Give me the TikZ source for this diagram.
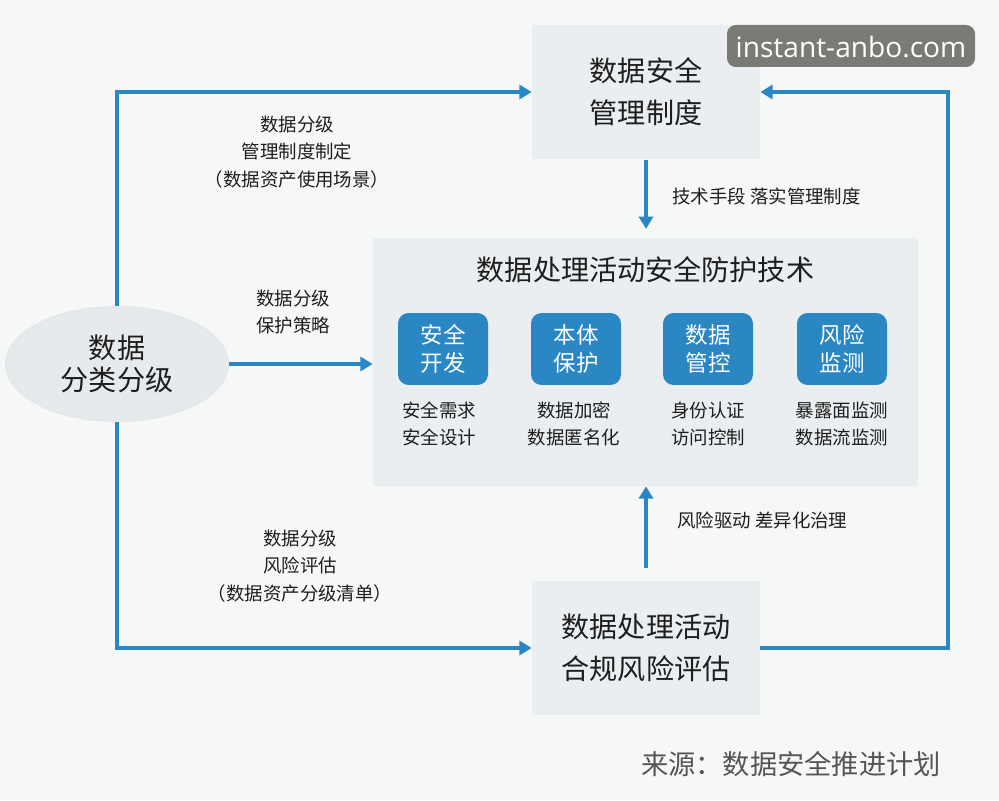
\documentclass[tikz,border=0pt]{standalone}
\usepackage{fontspec}
\setmainfont{Noto Sans CJK SC}
\newfontfamily\wmfont{Open Sans}
\usepackage{tikz}
\usetikzlibrary{arrows.meta, positioning, shapes.geometric}
\definecolor{kblue}{HTML}{2B86C4}
\definecolor{kpage}{HTML}{F6F8F8}
\definecolor{kpanel}{HTML}{EBEEF0}
\definecolor{kell}{HTML}{E7EAED}
\definecolor{ktext}{HTML}{1E1E1E}
\definecolor{kmark}{HTML}{7A7A77}
\definecolor{ksrc}{HTML}{555555}

\tikzset{
  panel/.style={fill=kpanel, minimum width=4.56cm, minimum height=2.7cm, align=center,
    text=ktext, font=\fontsize{16}{24}\selectfont},
  techbox/.style={fill=kblue, rounded corners=6pt, minimum width=1.8cm, minimum height=1.44cm,
    inner sep=0pt, text=white, align=center, font=\fontsize{12.8}{16}\selectfont},
  note/.style={align=center, text=ktext, font=\fontsize{10.5}{15.6}\selectfont},
  flow/.style={draw=kblue, line width=2.3pt, -{Triangle[length=7pt, width=8pt]}},
}

\begin{document}
\begin{tikzpicture}[x=0.02cm, y=-0.02cm]
\fill[kpage] (0,0) rectangle (999,800);
\useasboundingbox (0,0) rectangle (999,800);

% three boxes of the cycle
\node[panel] (mgmt) at (646,92) {数据安全\\管理制度};
\node[panel] (assess) at (646,648) {数据处理活动\\合规风险评估};
\fill[kpanel] (373,238) rectangle (918,486);
\node[inner sep=0pt, minimum width=10.9cm, minimum height=4.96cm] (prot) at (645.5,362) {};
\node[text=ktext, font=\fontsize{16}{20}\selectfont] (protT) at (645.5,270) {数据处理活动安全防护技术};

% the four techniques
\node[techbox] (dev) at (443,349) {安全\\开发};
\node[techbox] (body) at (576,349) {本体\\保护};
\node[techbox] (ctrl) at (708,349) {数据\\管控};
\node[techbox] (watch) at (842,349) {风险\\监测};
\node[note] (devN) at (439,424) {安全需求\\安全设计};
\node[note] (bodyN) at (574,424) {数据加密\\数据匿名化};
\node[note] (ctrlN) at (708,424) {身份认证\\访问控制};
\node[note] (watchN) at (842,424) {暴露面监测\\数据流监测};

% classification
\node[ellipse, fill=kell, draw=black!10, line width=0.6pt, minimum width=4.46cm, minimum height=2.3cm,
  inner sep=0pt, align=center, text=ktext, font=\fontsize{16}{18.5}\selectfont] (ell) at (117,364) {数据\\分类分级};

% connectors
\coordinate (rcol) at (948,0);
\draw[flow] (ell.north) |- (mgmt.west);
\draw[flow] (ell.south) |- (assess.west);
\draw[flow] (ell.east) -- (ell.east -| prot.west);
\draw[flow, shorten >=5pt] (mgmt.south) -- (mgmt.south |- prot.north);
\draw[flow, shorten <=7pt] (assess.north) -- (assess.north |- prot.south);
\draw[flow] (assess.east) -- (assess.east -| rcol) |- (mgmt.east);

% connector labels
\node[note] (lblMgmt) at (297,152) {数据分级\\管理制度制定\\（数据资产使用场景）};
\node[note] (lblProt) at (293,312) {数据分级\\保护策略};
\node[note] (lblRisk) at (300,566) {数据分级\\风险评估\\（数据资产分级清单）};
\node[note, anchor=west] (lblTech) at (666,196) {技术手段 落实管理制度};
\node[note, anchor=west] (lblDrive) at (671,520) {风险驱动 差异化治理};

% source and watermark
\node[anchor=east, text=ksrc, font=\fontsize{15.5}{18}\selectfont] (src) at (947,764) {来源：数据安全推进计划};
\fill[kmark, rounded corners=5pt] (727,25) rectangle (975,67);
\node[text=white, font=\wmfont\fontsize{16}{18}\selectfont] (mark) at (851,47) {instant-anbo.com};
\end{tikzpicture}
\end{document}
